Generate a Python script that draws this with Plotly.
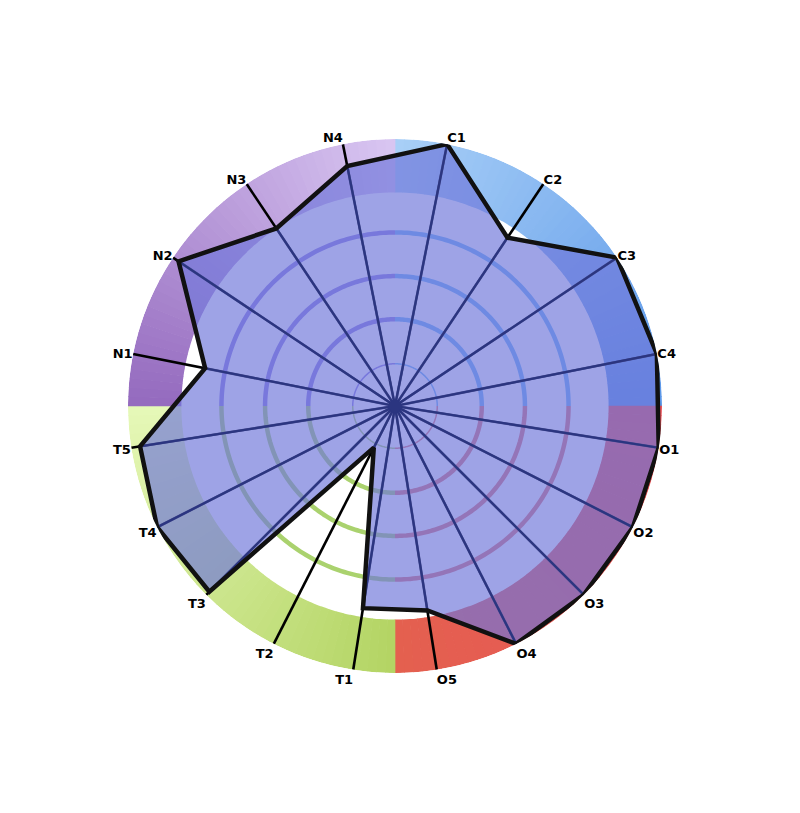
import numpy as np
import plotly.graph_objects as go

# ---------------- data ----------------
groups = ["C", "O", "T", "N"]
categories = ["C1", "C2", "C3", "C4",
              "O1", "O2", "O3", "O4", "O5",
              "T1", "T2", "T3", "T4", "T5",
              "N1", "N2", "N3", "N4"]
scores = [6.0, 4.55, 6.0, 6.0,
          6.0, 6.0, 6.0, 6.0, 4.65,
          4.6, 1.05, 5.9, 6.0, 5.8,
          4.35, 5.85, 4.8, 5.5]
ring_levels = [0.95, 1.95, 2.92, 3.9]
R_MAX = 6.0
BAND_IN = 4.8

# ---------------- styles ----------------
band_colors = {  # (start colour, end colour) along the quadrant, clockwise
    "C": ((169, 208, 247), (90, 150, 232)),
    "O": ((232, 84, 90), (228, 96, 79)),
    "T": ((179, 212, 99), (230, 248, 184)),
    "N": ((148, 106, 190), (217, 198, 242)),
}
ring_colors = {"C": "#6DB4F5", "O": "#E07474", "T": "#AAD26E", "N": "#8B7CE0"}

# angular position of each category: each group fills one quadrant evenly
counts = {g: sum(1 for c in categories if c[0] == g) for g in groups}
idx_in_group = {}
thetas = []
for c in categories:
    g = c[0]
    i = idx_in_group.get(g, 0)
    idx_in_group[g] = i + 1
    q = groups.index(g)
    thetas.append(90 * q + (i + 0.5) * 90 / counts[g])

fig = go.Figure()

# background colored bands (gradient by small wedges)
step = 2.0
for q, g in enumerate(groups):
    c0, c1 = band_colors[g]
    centers = np.arange(90 * q + step / 2, 90 * q + 90, step)
    cols = []
    for t in centers:
        f = (t - 90 * q) / 90
        rgb = [int(round(c0[k] + (c1[k] - c0[k]) * f)) for k in range(3)]
        cols.append("rgb(%d,%d,%d)" % tuple(rgb))
    fig.add_trace(go.Barpolar(
        r=[R_MAX - BAND_IN] * len(centers), base=[BAND_IN] * len(centers),
        theta=centers, width=[step * 1.08] * len(centers),
        marker=dict(color=cols, line=dict(width=0)),
        hoverinfo="skip", showlegend=False))

# concentric colored rings
for q, g in enumerate(groups):
    arc = np.linspace(90 * q, 90 * q + 90, 91)
    for j, lv in enumerate(ring_levels):
        fig.add_trace(go.Scatterpolar(
            r=[lv] * len(arc), theta=arc, mode="lines",
            line=dict(color=ring_colors[g], width=1.5 if j == 0 else 4.5),
            hoverinfo="skip", showlegend=False))

# spokes (black, full length)
sr, st = [], []
for t in thetas:
    sr += [0, R_MAX, None]
    st += [t, t, None]
fig.add_trace(go.Scatterpolar(
    r=sr, theta=st, mode="lines", line=dict(color="black", width=2.6),
    hoverinfo="skip", showlegend=False, cliponaxis=False))

# score polygon fill
fig.add_trace(go.Scatterpolar(
    r=scores + [scores[0]], theta=thetas + [thetas[0]],
    mode="none", fill="toself", fillcolor="rgba(110,118,218,0.67)",
    cliponaxis=False, showlegend=False, hoverinfo="skip"))

# spokes seen through the fill (navy)
ir, it = [], []
for t, s in zip(thetas, scores):
    ir += [0, s, None]
    it += [t, t, None]
fig.add_trace(go.Scatterpolar(
    r=ir, theta=it, mode="lines", line=dict(color="#2B3580", width=2.2),
    hoverinfo="skip", showlegend=False))
fig.add_trace(go.Scatterpolar(
    r=[0], theta=[0], mode="markers", marker=dict(color="#2B3580", size=13),
    hoverinfo="skip", showlegend=False))

# score polygon outline
fig.add_trace(go.Scatterpolar(
    r=scores + [scores[0]], theta=thetas + [thetas[0]],
    mode="lines", line=dict(color="#111111", width=4.5),
    cliponaxis=False, showlegend=False, name="score"))

cx, cy, R = 395, 406, 267
W, H = 800, 813
fig.update_layout(
    width=W, height=H,
    margin=dict(l=0, r=0, t=0, b=0),
    paper_bgcolor="white",
    showlegend=False,
    polar=dict(
        domain=dict(x=[(cx - R) / W, (cx + R) / W],
                    y=[1 - (cy + R) / H, 1 - (cy - R) / H]),
        bgcolor="white",
        bargap=0,
        radialaxis=dict(range=[0, R_MAX], visible=False, showgrid=False),
        angularaxis=dict(
            direction="clockwise", rotation=90, thetaunit="degrees",
            tickmode="array", tickvals=thetas, ticktext=categories,
            showgrid=False, showline=False, ticks="",
            tickfont=dict(family="DejaVu Sans", size=13, color="black", weight="bold"),
        ),
    ),
)

fig.write_html("out.html", config={"displayModeBar": False},
               post_script="document.body.style.margin='0';document.body.style.overflow='hidden';")
